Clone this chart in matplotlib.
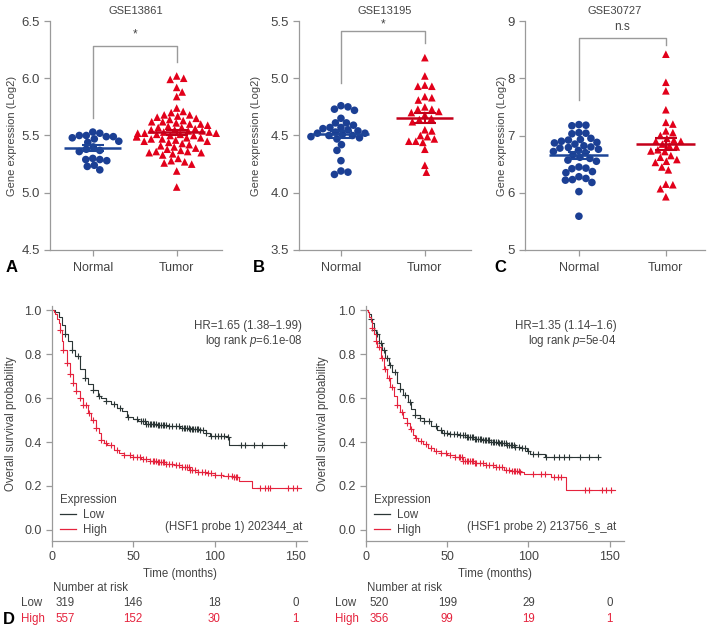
import numpy as np
import matplotlib
matplotlib.use("Agg")
from matplotlib import pyplot as plt
from matplotlib.lines import Line2D
from matplotlib.transforms import blended_transform_factory

plt.rcParams["font.family"] = ["Liberation Sans", "DejaVu Sans"]
plt.rcParams["font.size"] = 8
plt.rcParams["mathtext.fontset"] = "custom"
plt.rcParams["mathtext.rm"] = "Liberation Sans"
plt.rcParams["mathtext.it"] = "Liberation Sans:italic"

# ---- top row: expression dot plots ----
groups = ["Normal", "Tumor"]
titles = ["GSE13861", "GSE13195", "GSE30727"]
signif = ["*", "*", "n.s"]

a_normal = [5.53, 5.52, 5.50, 5.50, 5.49, 5.49, 5.48, 5.47, 5.45, 5.44, 5.40, 5.38,
            5.37, 5.36, 5.30, 5.29, 5.29, 5.28, 5.24, 5.23, 5.20]
a_tumor = [6.02, 6.00, 5.99, 5.92, 5.88, 5.84, 5.74, 5.71, 5.70, 5.68, 5.68, 5.67,
           5.66, 5.65, 5.64, 5.63, 5.62, 5.62, 5.61, 5.60, 5.60, 5.59, 5.58, 5.57,
           5.57, 5.56, 5.55, 5.55, 5.54, 5.54, 5.53, 5.53, 5.52, 5.52, 5.52, 5.51,
           5.51, 5.50, 5.50, 5.49, 5.49, 5.48, 5.48, 5.47, 5.47, 5.46, 5.45, 5.45,
           5.44, 5.43, 5.42, 5.41, 5.40, 5.39, 5.38, 5.37, 5.36, 5.36, 5.35, 5.35,
           5.34, 5.33, 5.30, 5.28, 5.27, 5.26, 5.25, 5.19, 5.05]
b_normal = [4.76, 4.75, 4.73, 4.72, 4.65, 4.61, 4.61, 4.59, 4.57, 4.57, 4.56, 4.55,
            4.54, 4.53, 4.52, 4.52, 4.51, 4.50, 4.50, 4.49, 4.48, 4.47, 4.42, 4.37,
            4.28, 4.19, 4.18, 4.16]
b_tumor = [5.18, 5.02, 4.94, 4.93, 4.93, 4.84, 4.83, 4.81, 4.75, 4.73, 4.73, 4.71,
           4.70, 4.68, 4.65, 4.64, 4.62, 4.55, 4.54, 4.50, 4.49, 4.47, 4.45, 4.45,
           4.44, 4.38, 4.24, 4.18]
c_normal = [7.19, 7.18, 7.17, 7.05, 7.04, 7.03, 6.95, 6.93, 6.92, 6.90, 6.88, 6.87,
            6.85, 6.82, 6.80, 6.79, 6.78, 6.76, 6.74, 6.72, 6.70, 6.66, 6.62, 6.60,
            6.57, 6.55, 6.45, 6.43, 6.42, 6.37, 6.35, 6.28, 6.25, 6.23, 6.22, 6.18,
            6.02, 5.59]
c_tumor = [8.42, 7.93, 7.78, 7.45, 7.23, 7.20, 7.08, 7.05, 7.00, 6.95, 6.92, 6.90,
           6.90, 6.85, 6.82, 6.80, 6.75, 6.73, 6.72, 6.65, 6.62, 6.58, 6.55, 6.53,
           6.45, 6.40, 6.15, 6.14, 6.07, 5.93]

panel_data = [(a_normal, a_tumor), (b_normal, b_tumor), (c_normal, c_tumor)]
ylims = [(4.5, 6.5), (3.5, 5.5), (5, 9)]
yticks = [[4.5, 5.0, 5.5, 6.0, 6.5], [3.5, 4.0, 4.5, 5.0, 5.5], [5, 6, 7, 8, 9]]
ytick_fmt = ["{:.1f}", "{:.1f}", "{:.0f}"]
# bracket: (left start, top, right end), star y
brackets = [(5.65, 6.28, 6.14, 6.38), (4.96, 5.41, 5.31, 5.47), (7.62, 8.71, 8.58, 8.90)]

# ---- bottom row: Kaplan-Meier ----
km1_low_t = [0, 2, 4, 6, 8, 10, 12, 14, 17, 20, 22, 25, 28, 30, 33, 36, 40, 43, 46, 50,
             53, 58, 65, 71, 79, 85, 91, 95, 97, 108, 109]
km1_low_s = [1.0, 0.99, 0.97, 0.93, 0.89, 0.86, 0.82, 0.79, 0.73, 0.69, 0.665, 0.635,
             0.608, 0.60, 0.585, 0.575, 0.555, 0.54, 0.515, 0.505, 0.495, 0.482, 0.477,
             0.473, 0.462, 0.458, 0.455, 0.44, 0.427, 0.424, 0.385]
km1_low_end = 143
km1_high_t = [0, 1, 2, 3, 4, 5, 6, 7, 9, 11, 13, 15, 17, 19, 22, 24, 27, 29, 30, 32, 34,
              38, 41, 44, 50, 55, 60, 65, 70, 75, 80, 85, 90, 95, 100, 105, 112, 115, 123]
km1_high_s = [1.0, 0.99, 0.98, 0.96, 0.94, 0.91, 0.86, 0.82, 0.76, 0.71, 0.67, 0.63,
              0.60, 0.57, 0.53, 0.50, 0.465, 0.44, 0.41, 0.395, 0.385, 0.365, 0.35, 0.34,
              0.33, 0.325, 0.315, 0.31, 0.30, 0.295, 0.285, 0.275, 0.265, 0.26, 0.25,
              0.245, 0.24, 0.225, 0.19]
km1_high_end = 153
km1_low_cens = [8, 12, 16, 20, 25, 29, 33, 38, 42, 47, 52, 55, 56, 57, 58, 59, 60, 61,
                62, 63, 64, 65, 66, 67, 68, 69, 70, 72, 74, 76, 78, 80, 81, 82, 83, 84,
                85, 86, 87, 88, 89, 90, 91, 93, 95, 98, 100, 102, 104, 106, 108, 116,
                119, 124, 129, 143]
km1_high_cens = [5, 7, 9, 11, 13, 15, 17, 19, 21, 23, 25, 27, 30, 33, 36, 40, 44, 48, 50,
                 52, 54, 56, 58, 60, 62, 63, 64, 65, 66, 67, 68, 69, 70, 72, 74, 76, 78,
                 80, 82, 83, 84, 85, 86, 88, 90, 92, 94, 96, 98, 100, 104, 108, 111, 112,
                 113, 114, 128, 131, 133, 134, 145, 148, 151]

km2_low_t = [0, 1, 2, 3, 4, 5, 6, 8, 10, 12, 14, 16, 19, 21, 23, 26, 28, 30, 33, 36, 40,
             44, 47, 52, 57, 62, 67, 72, 77, 82, 87, 92, 96, 99, 101, 110]
km2_low_s = [1.0, 0.99, 0.98, 0.96, 0.94, 0.91, 0.89, 0.85, 0.82, 0.78, 0.75, 0.72, 0.67,
             0.64, 0.615, 0.58, 0.55, 0.525, 0.51, 0.495, 0.475, 0.455, 0.442, 0.435,
             0.43, 0.423, 0.415, 0.41, 0.40, 0.395, 0.385, 0.378, 0.372, 0.36, 0.345,
             0.33]
km2_low_end = 143
km2_high_t = [0, 1, 2, 3, 4, 5, 6, 7, 9, 11, 13, 15, 17, 19, 21, 23, 25, 27, 29, 30, 32,
              35, 38, 42, 46, 50, 55, 60, 67, 74, 80, 85, 90, 95, 97, 114, 123]
km2_high_s = [1.0, 0.99, 0.97, 0.95, 0.92, 0.89, 0.86, 0.83, 0.78, 0.73, 0.69, 0.65,
              0.61, 0.57, 0.535, 0.51, 0.485, 0.46, 0.43, 0.42, 0.405, 0.39, 0.375, 0.36,
              0.35, 0.34, 0.33, 0.315, 0.305, 0.295, 0.285, 0.275, 0.27, 0.265, 0.255,
              0.24, 0.18]
km2_high_end = 153
km2_low_cens = [3, 5, 7, 9, 11, 13, 15, 18, 21, 24, 27, 30, 33, 36, 39, 43, 46, 48, 50,
                52, 54, 56, 58, 60, 61, 62, 63, 64, 65, 66, 67, 68, 69, 70, 71, 72, 73,
                74, 75, 76, 77, 78, 79, 80, 81, 82, 83, 84, 85, 86, 87, 88, 89, 90, 91,
                92, 94, 96, 98, 100, 103, 106, 111, 116, 119, 122, 125, 132, 137, 143]
km2_high_cens = [4, 6, 8, 10, 12, 14, 16, 19, 22, 25, 28, 31, 34, 37, 40, 43, 46, 49, 52,
                 55, 57, 58, 59, 60, 61, 62, 63, 64, 65, 66, 67, 68, 70, 72, 74, 76, 78,
                 80, 82, 84, 86, 88, 90, 91, 92, 93, 94, 95, 103, 108, 110, 116, 118,
                 120, 135, 137, 145, 148, 151]

risk_times = [0, 50, 100, 150]
km1_risk_low = [319, 146, 18, 0]
km1_risk_high = [557, 152, 30, 1]
km2_risk_low = [520, 199, 29, 0]
km2_risk_high = [356, 99, 19, 1]
km_hr = ["HR=1.65 (1.38\u20131.99)", "HR=1.35 (1.14\u20131.6)"]
km_p = ["6.1e-08", "5e-04"]
km_probe = ["(HSF1 probe 1) 202344_at", "(HSF1 probe 2) 213756_s_at"]

BLUE = "#1b3f94"
RED = "#e2001a"
BLUE_LINE = "#1d4597"
RED_LINE = "#c4001a"
GREY = "#9a9a9a"
TXT = "#444444"
KM_LOW = "#2b3636"
KM_HIGH = "#e5233d"
KM_FS = 8.3

W, H = 708, 629
fig = plt.figure(figsize=(W / 100, H / 100), dpi=100)


def swarm(vals, diam, px_y, px_x):
    vals = np.asarray(vals, float)
    offs = np.zeros(len(vals))
    placed = []
    cands = sorted(np.arange(-40, 40.01, 0.5), key=lambda c: (abs(c), -c))
    for i in np.argsort(vals)[::-1]:
        y = vals[i] * px_y
        for c in cands:
            if all((c - px) ** 2 + (y - py) ** 2 >= diam ** 2 for px, py in placed):
                break
        placed.append((c, y))
        offs[i] = c / px_x
    return offs


def style_axes(ax, size):
    for s in ["top", "right"]:
        ax.spines[s].set_visible(False)
    for s in ["left", "bottom"]:
        ax.spines[s].set_color(GREY)
        ax.spines[s].set_linewidth(0.9)
    ax.tick_params(colors=GREY, labelcolor=TXT, length=4, width=0.9, labelsize=size)


# axes boxes in pixels: left, right, top, bottom
top_boxes = [(50, 222, 21, 250), (299, 471, 21, 250), (525, 705, 21, 250)]
xlims = [(-0.51, 1.54), (-0.50, 1.55), (-0.62, 1.45)]
ylab_x = [17, 261, 507]
letters = [("A", 12), ("B", 259), ("C", 500)]

for k in range(3):
    l, r, t, b = top_boxes[k]
    ax = fig.add_axes([l / W, 1 - b / H, (r - l) / W, (b - t) / H])
    style_axes(ax, 9.5)
    ax.set_xlim(*xlims[k])
    ax.set_ylim(*ylims[k])
    px_x = (r - l) / (xlims[k][1] - xlims[k][0])
    px_y = (b - t) / (ylims[k][1] - ylims[k][0])
    for g, (vals, col, lcol, mk) in enumerate(zip(panel_data[k], [BLUE, RED],
                                                   [BLUE_LINE, RED_LINE], ["o", "^"])):
        off = swarm(vals, 7.0, px_y, px_x)
        ax.scatter(g + off, vals, s=30, marker=mk, color=col, edgecolor="none", zorder=2)
        m = np.mean(vals)
        se = np.std(vals, ddof=1) / np.sqrt(len(vals))
        ax.hlines(m, g - 0.34, g + 0.34, color=lcol, lw=1.8, zorder=3)
        ax.hlines([m - se, m + se], g - 0.13, g + 0.13, color=lcol, lw=1.5, zorder=3)
        ax.vlines(g, m - se, m + se, color=lcol, lw=1.5, zorder=3)
    y0, ytop, y1, ys = brackets[k]
    ax.plot([0, 0, 1, 1], [y0, ytop, ytop, y1], color=GREY, lw=1.0, zorder=1)
    ax.text(0.5, ys, signif[k], ha="center", va="center", fontsize=8.5, color=TXT)
    ax.set_xticks([0, 1])
    ax.set_xticklabels(groups, fontsize=9)
    ax.tick_params(axis="x", pad=5)
    ax.set_yticks(yticks[k])
    ax.set_yticklabels([ytick_fmt[k].format(v) for v in yticks[k]])
    ax.set_ylabel("Gene expression (Log2)", fontsize=8, color=TXT)
    ax.yaxis.set_label_coords((ylab_x[k] - l) / (r - l), 0.5)
    ax.set_title(titles[k], fontsize=8, color=TXT, pad=5)
    fig.text(letters[k][1] / W, 1 - 268 / H, letters[k][0], fontsize=12,
             fontweight="bold", ha="center", va="center", color="black")


def km_curve(ax, ts, ss, end, cens, col):
    tt = list(ts) + [end]
    sv = list(ss) + [ss[-1]]
    ax.step(tt, sv, where="post", color=col, lw=0.8)
    ts_arr = np.asarray(ts)
    ci = np.searchsorted(ts_arr, cens, side="right") - 1
    cy = np.asarray(ss)[ci]
    ax.plot(cens, cy, ls="none", marker="+", ms=4.5, mew=0.8, color=col)


km_sets = [
    (km1_low_t, km1_low_s, km1_low_end, km1_low_cens,
     km1_high_t, km1_high_s, km1_high_end, km1_high_cens, km1_risk_low, km1_risk_high),
    (km2_low_t, km2_low_s, km2_low_end, km2_low_cens,
     km2_high_t, km2_high_s, km2_high_end, km2_high_cens, km2_risk_low, km2_risk_high),
]
km_boxes = [(52, 307), (366, 624)]
km_ylab_x = [17, 329]

for k in range(2):
    (lt, ls_, le, lc, ht, hs, he, hc, rl, rh) = km_sets[k]
    l, r = km_boxes[k]
    ax = fig.add_axes([l / W, 1 - 541 / H, (r - l) / W, (541 - 305.6) / H])
    style_axes(ax, 9)
    xr = (r - l) / 1.625
    ax.set_xlim(0, xr)
    ax.set_ylim(-0.05, 1.02)
    km_curve(ax, lt, ls_, le, lc, KM_LOW)
    km_curve(ax, ht, hs, he, hc, KM_HIGH)
    ax.set_xticks([0, 50, 100, 150])
    ax.set_yticks([0.0, 0.2, 0.4, 0.6, 0.8, 1.0])
    ax.set_yticklabels(["0.0", "0.2", "0.4", "0.6", "0.8", "1.0"])
    ax.set_xlabel("Time (months)", fontsize=KM_FS, color=TXT, labelpad=3)
    ax.set_ylabel("Overall survival probability", fontsize=KM_FS, color=TXT)
    ax.yaxis.set_label_coords((km_ylab_x[k] - l) / (r - l), 0.5)
    ax.text(154, 0.927, km_hr[k], ha="right", va="center", fontsize=KM_FS, color=TXT)
    ax.text(154, 0.859, "log rank $\\it{p}$=" + km_p[k], ha="right", va="center",
            fontsize=KM_FS, color=TXT)
    ax.text(154, 0.012, km_probe[k], ha="right", va="center", fontsize=KM_FS, color=TXT)
    handles = [Line2D([], [], color=KM_LOW, lw=0.9), Line2D([], [], color=KM_HIGH, lw=0.9)]
    leg = ax.legend(handles, ["Low", "High"], title="Expression", loc="lower left",
                    bbox_to_anchor=(0.0, -0.015), frameon=False, fontsize=KM_FS,
                    title_fontsize=KM_FS, handlelength=1.4, handletextpad=0.6,
                    labelspacing=0.3, alignment="left", borderaxespad=0.3)
    for txt in leg.get_texts():
        txt.set_color(TXT)
    leg.get_title().set_color(TXT)
    tr = blended_transform_factory(ax.transData, fig.transFigure)
    ax.text(0.5, 1 - 588 / H, "Number at risk", transform=tr, ha="left", va="center",
            fontsize=KM_FS, color=TXT, clip_on=False)
    for label, row, col, yy in [("Low", rl, TXT, 603), ("High", rh, KM_HIGH, 619)]:
        ax.text(-19, 1 - yy / H, label, transform=tr, ha="left", va="center",
                fontsize=KM_FS, color=col, clip_on=False)
        for j, (tm, n) in enumerate(zip(risk_times, row)):
            ax.text(tm + (2 if j == 0 else 0), 1 - yy / H, str(n), transform=tr,
                    ha="left" if j == 0 else "center", va="center", fontsize=KM_FS,
                    color=col, clip_on=False)

fig.text(9 / W, 1 - 620 / H, "D", fontsize=12, fontweight="bold", ha="center",
         va="center", color="black")

fig.savefig("out.png", dpi=100)
